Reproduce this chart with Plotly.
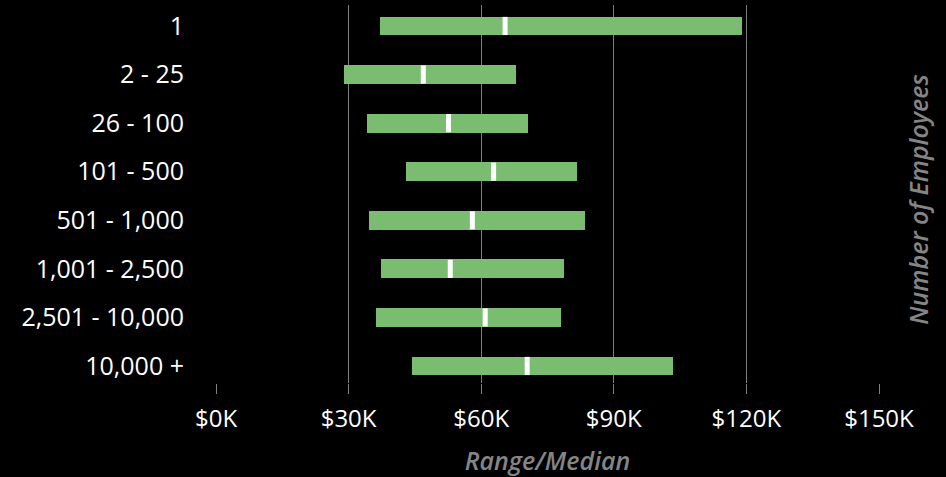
import plotly.graph_objects as go

categories = ["1", "2 - 25", "26 - 100", "101 - 500", "501 - 1,000",
              "1,001 - 2,500", "2,501 - 10,000", "10,000 +"]
range_low = [37.1, 28.9, 34.1, 43.0, 34.6, 37.3, 36.2, 44.3]
range_high = [119.1, 67.8, 70.7, 81.6, 83.4, 78.7, 78.0, 103.3]
median = [65.4, 46.9, 52.6, 62.8, 58.0, 53.0, 60.9, 70.4]
x_ticks = [0, 30, 60, 90, 120, 150]
x_tick_labels = ["$0K", "$30K", "$60K", "$90K", "$120K", "$150K"]

FONT = "Open Sans"
GREEN = "#7bbd70"
GRID = "#7f7f7f"
TITLE_GRAY = "#858585"

fig = go.Figure()
fig.add_trace(go.Bar(
    y=categories,
    x=[h - l for l, h in zip(range_low, range_high)],
    base=range_low,
    orientation="h",
    width=0.39,
    marker=dict(color=GREEN, line=dict(width=0)),
    showlegend=False,
    hoverinfo="skip",
))
fig.add_trace(go.Scatter(
    y=categories,
    x=median,
    mode="markers",
    marker=dict(symbol="line-ns", size=13, line=dict(width=5, color="white")),
    showlegend=False,
    hoverinfo="skip",
))

fig.update_layout(
    width=946, height=477,
    paper_bgcolor="black", plot_bgcolor="black",
    margin=dict(l=216, r=67, t=5, b=94),
    font=dict(family=FONT, color="white", size=24),
    bargap=0,
    xaxis=dict(
        range=[0, 150],
        tickvals=x_ticks, ticktext=x_tick_labels,
        showgrid=True, gridcolor=GRID, gridwidth=1,
        zeroline=False, showline=False,
        ticks="outside", ticklen=10, tickcolor=GRID, tickwidth=1,
        ticklabelstandoff=4,
        tickfont=dict(family=FONT, size=24, color="white"),
        title=dict(text="Range/Median",
                   font=dict(family=FONT, size=25, color=TITLE_GRAY, weight=600, style="italic"),
                   standoff=22),
    ),
    yaxis=dict(
        type="category",
        categoryorder="array", categoryarray=categories,
        range=[7.35, -0.432],
        showgrid=False, zeroline=False, showline=False,
        ticks="", ticklabelstandoff=31,
        tickfont=dict(family=FONT, size=25, color="white"),
    ),
    annotations=[dict(
        text="Number of Employees",
        xref="paper", yref="paper", x=1.0, y=0.485,
        xshift=39, textangle=-90, showarrow=False,
        font=dict(family=FONT, size=25, color=TITLE_GRAY, weight=600, style="italic"),
        xanchor="center", yanchor="middle",
    )],
)

fig.write_html(
    "out.html",
    config={"displayModeBar": False},
    post_script="document.body.style.margin='0';document.body.style.background='black';",
)
